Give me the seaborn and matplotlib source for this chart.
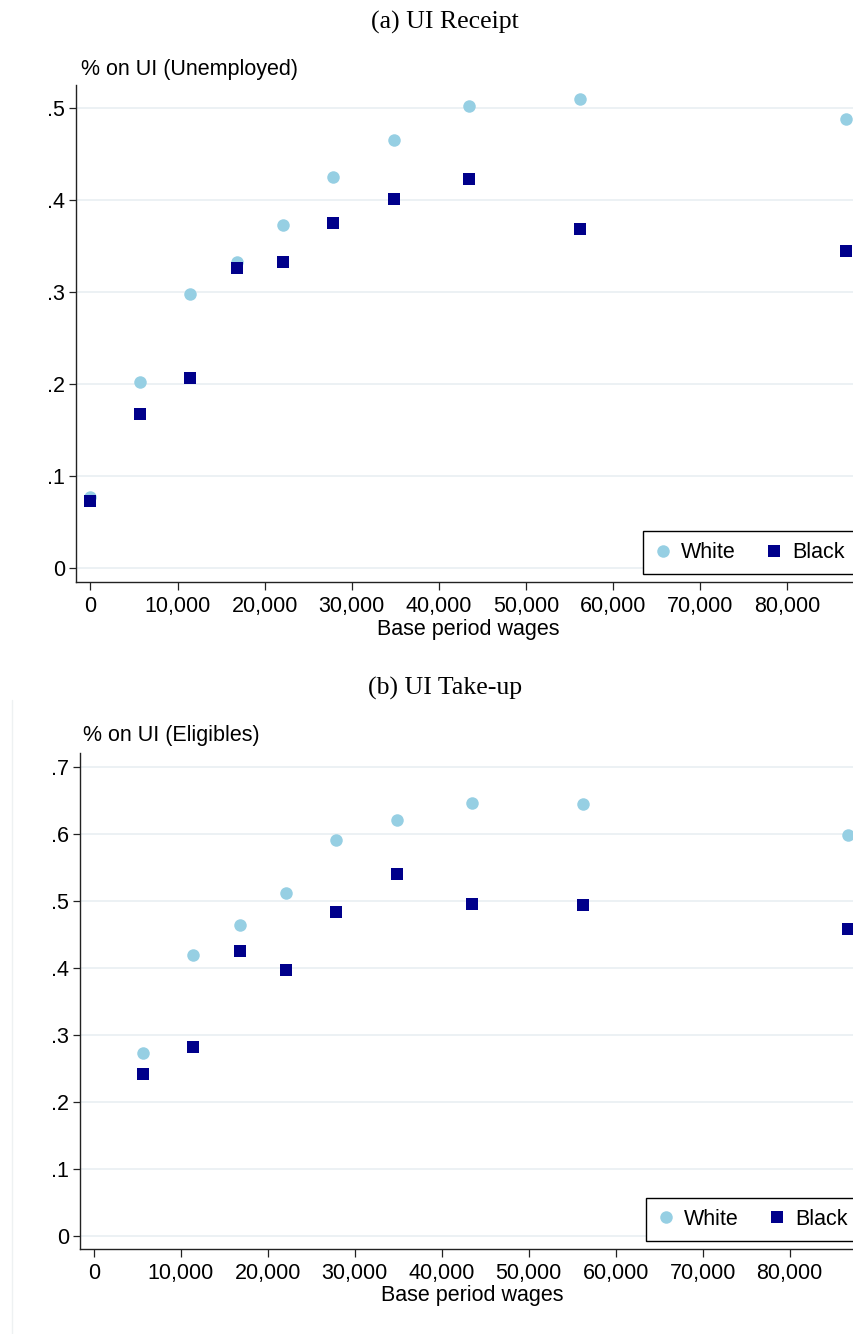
import matplotlib
matplotlib.use("Agg")
import matplotlib.pyplot as plt
from matplotlib.lines import Line2D
from matplotlib.ticker import FuncFormatter
import seaborn as sns
import pandas as pd

# ---------------- data ----------------
wages = [0, 5660, 11400, 16800, 22100, 27800, 34900, 43500, 56250, 86750]
receipt_white = [0.078, 0.203, 0.298, 0.333, 0.373, 0.425, 0.466, 0.503, 0.510, 0.488]
receipt_black = [0.073, 0.168, 0.207, 0.326, 0.333, 0.375, 0.401, 0.423, 0.369, 0.345]
takeup_wages = [5660, 11400, 16800, 22100, 27800, 34900, 43500, 56250, 86750]
takeup_white = [0.272, 0.419, 0.464, 0.511, 0.590, 0.621, 0.646, 0.644, 0.598]
takeup_black = [0.242, 0.282, 0.425, 0.397, 0.483, 0.540, 0.495, 0.494, 0.458]
x_ticks = [0, 10000, 20000, 30000, 40000, 50000, 60000, 70000, 80000]
y_ticks_a = [0, 0.1, 0.2, 0.3, 0.4, 0.5]
y_ticks_b = [0, 0.1, 0.2, 0.3, 0.4, 0.5, 0.6, 0.7]
groups = ["White", "Black"]

WHITE_C = "#96cfe3"
BLACK_C = "#00008b"
GRID_C = "#e9eff2"

sns.set_theme(style="white")
plt.rcParams["font.family"] = ["Liberation Sans", "DejaVu Sans"]
plt.rcParams["text.color"] = "black"
plt.rcParams["legend.labelcolor"] = "black"

W, H = 854, 1334
fig = plt.figure(figsize=(W / 100, H / 100), dpi=100)

SANS = 15.5
MS = 9.0


def fmt_y(v, pos):
    if abs(v) < 1e-9:
        return "0"
    s = f"{v:.1f}"
    return s[1:] if s.startswith("0") else s


def fmt_x(v, pos):
    return f"{int(round(v)):,}"


def make_panel(rect, xs_w, yw, xs_b, yb, xlim, ylim, yticks, title, ylab,
               title_y, ylab_xy, xlab_xy, leg_anchor):
    ax = fig.add_axes(rect)
    dfw = pd.DataFrame({"x": xs_w, "y": yw})
    dfb = pd.DataFrame({"x": xs_b, "y": yb})
    sns.scatterplot(data=dfw, x="x", y="y", ax=ax, marker="o", s=MS ** 2,
                    color=WHITE_C, linewidth=0, zorder=3)
    sns.scatterplot(data=dfb, x="x", y="y", ax=ax, marker="s", s=MS ** 2,
                    color=BLACK_C, linewidth=0, zorder=4)
    ax.set_xlim(*xlim)
    ax.set_ylim(*ylim)
    ax.set_xticks(x_ticks)
    ax.set_yticks(yticks)
    ax.xaxis.set_major_formatter(FuncFormatter(fmt_x))
    ax.yaxis.set_major_formatter(FuncFormatter(fmt_y))
    ax.grid(False)
    for t in yticks:
        ax.axhline(t, color=GRID_C, lw=1.2, zorder=1)
    for side in ["top", "right"]:
        ax.spines[side].set_visible(False)
    for side in ["left", "bottom"]:
        ax.spines[side].set_color("#222222")
        ax.spines[side].set_linewidth(1.0)
    ax.tick_params(axis="both", which="major", direction="out", length=5,
                   width=0.9, color="#222222", labelsize=SANS, pad=3,
                   labelcolor="black")
    ax.tick_params(axis="x", length=6, pad=4)
    ax.tick_params(left=True, bottom=True)
    ax.set_xlabel("")
    ax.set_ylabel("")
    # texts
    fig.text(445 / W, 1 - title_y / H, title, ha="center", va="center",
             fontsize=18.5, family=["Liberation Serif", "DejaVu Serif"])
    fig.text(ylab_xy[0] / W, 1 - ylab_xy[1] / H, ylab, ha="left", va="center",
             fontsize=SANS)
    fig.text(xlab_xy[0] / W, 1 - xlab_xy[1] / H, "Base period wages",
             ha="center", va="center", fontsize=SANS)
    handles = [
        Line2D([], [], marker="o", ls="none", color=WHITE_C, markersize=MS,
               markeredgewidth=0, label=groups[0]),
        Line2D([], [], marker="s", ls="none", color=BLACK_C, markersize=MS,
               markeredgewidth=0, label=groups[1]),
    ]
    leg = ax.legend(handles=handles, ncol=2, loc="lower right",
                    bbox_to_anchor=(leg_anchor[0] / W, 1 - leg_anchor[1] / H),
                    bbox_transform=fig.transFigure, frameon=True,
                    fancybox=False, edgecolor="black", fontsize=SANS,
                    borderpad=0.5, handletextpad=0.45, columnspacing=1.4,
                    handlelength=0.8, borderaxespad=0)
    leg.get_frame().set_linewidth(1.0)
    leg.get_frame().set_facecolor("white")
    leg.get_frame().set_alpha(1)
    return ax


# panel (a)
a_left, a_top, a_bottom = 76.3, 85.0, 581.7
make_panel([a_left / W, 1 - a_bottom / H, 1 - a_left / W, (a_bottom - a_top) / H],
           wages, receipt_white, wages, receipt_black,
           (-1619, 87670), (-0.0146, 0.5253), y_ticks_a,
           "(a) UI Receipt", "% on UI (Unemployed)",
           22, (80.6, 70), (468, 629), (856, 574))

# panel (b)
b_left, b_top, b_bottom = 80.0, 752.8, 1249.0
make_panel([b_left / W, 1 - b_bottom / H, 1 - b_left / W, (b_bottom - b_top) / H],
           takeup_wages, takeup_white, takeup_wages, takeup_black,
           (-1575, 87391), (-0.0199, 0.7207), y_ticks_b,
           "(b) UI Take-up", "% on UI (Eligibles)",
           688, (83, 735), (472, 1295), (859, 1240.7))

# faint frame line at the left of the lower panel
fig.add_artist(Line2D([11.7 / W, 11.7 / W], [0, 1 - 700 / H],
                      transform=fig.transFigure, color="#eef1f2", lw=1.0))

fig.savefig("out.png", dpi=100)
